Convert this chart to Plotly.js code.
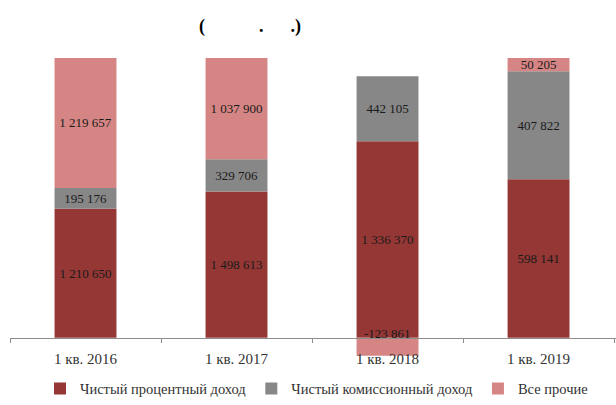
<!DOCTYPE html>
<html>
<head>
<meta charset="utf-8">
<script src="https://cdn.plot.ly/plotly-3.0.1.min.js"></script>
<style>html,body{margin:0;padding:0;background:#fff;}#chart{width:616px;height:405px;}</style>
</head>
<body>
<div id="chart"></div>
<script>
var categories = ["1 кв. 2016", "1 кв. 2017", "1 кв. 2018", "1 кв. 2019"];
var netInterest = [1210650, 1498613, 1336370, 598141];
var netCommission = [195176, 329706, 442105, 407822];
var otherIncome = [1219657, 1037900, -123861, 50205];
var seriesNames = ["Чистый процентный доход", "Чистый комиссионный доход", "Все прочие"];
var colors = ["#953735", "#878787", "#d68585"];

function fmt(v) {
  var s = Math.abs(v).toString().replace(/\B(?=(\d{3})+(?!\d))/g, " ");
  return (v < 0 ? "-" : "") + s;
}
var totals = categories.map(function (_, i) {
  return Math.abs(netInterest[i]) + Math.abs(netCommission[i]) + Math.abs(otherIncome[i]);
});
function pct(arr) { return arr.map(function (v, i) { return v / totals[i] * 100; }); }

var series = [netInterest, netCommission, otherIncome];
var font = "Liberation Serif, Times New Roman, serif";
var traces = series.map(function (vals, k) {
  return {
    type: "bar",
    name: seriesNames[k],
    x: categories,
    y: pct(vals),
    text: vals.map(function (v) { return v < 0 ? "" : fmt(v); }),
    textposition: "inside",
    insidetextanchor: "middle",
    textangle: 0,
    constraintext: "none",
    textfont: {family: font, size: 13, color: "#1a1a1a"},
    marker: {color: colors[k], line: {width: 0}},
    hoverinfo: "skip"
  };
});

var annotations = [];
series.forEach(function (vals) {
  vals.forEach(function (v, i) {
    if (v < 0) {
      annotations.push({
        x: categories[i], y: 0, xref: "x", yref: "y",
        text: fmt(v), showarrow: false, yanchor: "middle", yshift: 4,
        font: {family: font, size: 13, color: "#1a1a1a"}
      });
    }
  });
});

var yMin = -8, yMax = 100;
var plotTop = 58, marginB = 40, H = 405;
var plotH = H - plotTop - marginB;
var zeroPos = (0 - yMin) / (yMax - yMin);

annotations.push({
  xref: "paper", yref: "paper", x: (197 - 10) / 606, y: 1 + (plotTop - 26) / plotH,
  xanchor: "left", yanchor: "middle", showarrow: false,
  text: "<b>(&nbsp;&nbsp;&nbsp;&nbsp;&nbsp;&nbsp;&nbsp;&nbsp;&nbsp;&nbsp;&nbsp;&nbsp;.&nbsp;&nbsp;&nbsp;&nbsp;&nbsp;&nbsp;.)</b>",
  font: {family: font, size: 18, color: "#000"}
});

var layout = {
  width: 616, height: 405,
  margin: {l: 10, r: 0, t: plotTop, b: marginB},
  barmode: "relative",
  bargap: 0.59,
  paper_bgcolor: "#fff", plot_bgcolor: "#fff",
  showlegend: true,
  legend: {
    orientation: "h", x: (40 - 10) / 606, xanchor: "left", y: -(394 - (plotTop + plotH)) / plotH, yanchor: "middle",
    font: {family: font, size: 14.5, color: "#333"}, itemwidth: 30, traceorder: "normal"
  },
  xaxis: {
    type: "category", range: [-0.5, 3.513],
    anchor: "free", position: zeroPos,
    showline: true, linecolor: "#8c8c8c", linewidth: 1,
    ticks: "outside", tickson: "boundaries", ticklen: 4, tickcolor: "#8c8c8c",
    tickfont: {family: font, size: 15, color: "#333"},
    ticklabelstandoff: 7,
    showgrid: false, zeroline: false, fixedrange: true
  },
  yaxis: {
    range: [yMin, yMax], visible: false, showgrid: false, zeroline: false, fixedrange: true
  },
  annotations: annotations
};

Plotly.newPlot("chart", traces, layout, {displayModeBar: false, staticPlot: true});
</script>
</body>
</html>
